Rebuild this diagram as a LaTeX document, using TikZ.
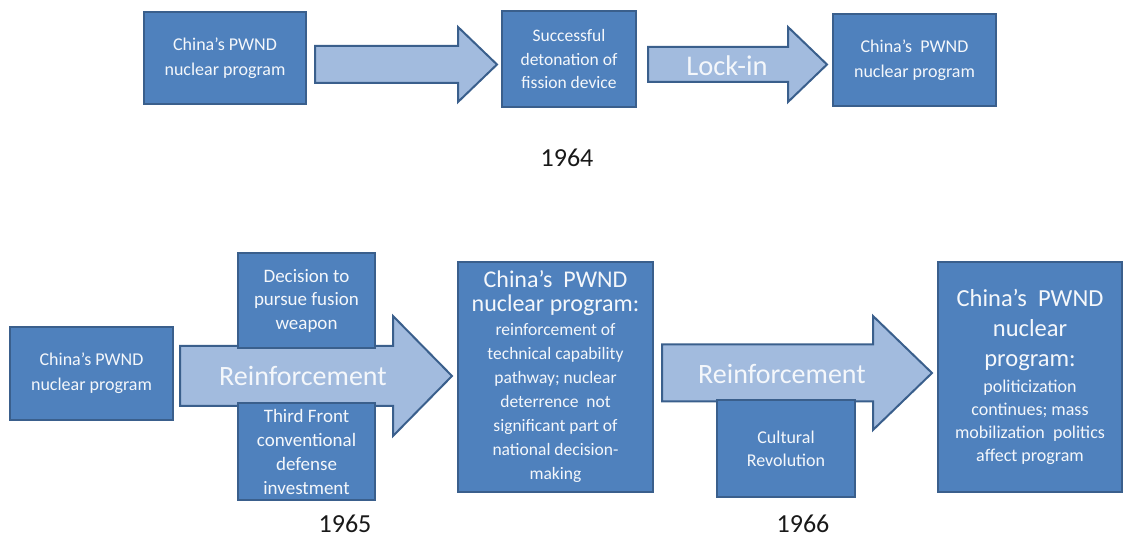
\documentclass[tikz,border=0pt]{standalone}
\usepackage{fontspec}
\setmainfont{Carlito}
\usetikzlibrary{positioning, calc}
\definecolor{boxfill}{HTML}{4F81BD}
\definecolor{boxline}{HTML}{3A5F8C}
\definecolor{arrowfill}{HTML}{A2BBDE}
\definecolor{boxtext}{HTML}{F4F7FB}
\tikzstyle{box} = [rectangle, draw=boxline, fill=boxfill, line width=2pt, text=boxtext, align=center, inner sep=0pt, font=\fontsize{18}{25}\selectfont]
\tikzstyle{fatarrow} = [draw=boxline, fill=arrowfill, line width=2pt, line join=miter]
\tikzstyle{arrowlabel} = [text=boxtext, inner sep=0pt, font=\fontsize{28}{30}\selectfont]
\tikzstyle{year} = [text=black!90, inner sep=0pt, font=\fontsize{26}{28}\selectfont]
% block arrow: tail, tip, half shaft, half head, head length
\newcommand{\fatarrow}[5]{\draw [fatarrow] ($(#1)+(0,-#3)$) -- ($(#2)+(-#5,-#3)$) -- ($(#2)+(-#5,-#4)$) -- (#2) -- ($(#2)+(-#5,#4)$) -- ($(#2)+(-#5,#3)$) -- ($(#1)+(0,#3)$) -- cycle;}

\begin{document}
\begin{tikzpicture}[x=1pt, y=-1pt]
    \useasboundingbox (0,0) rectangle (1128,537);

    % ==== Arrows (drawn first, boxes sit on top)
    \coordinate (fission tail) at (315,64.5);
    \coordinate (fission tip) at (497,64.5);
    \coordinate (lockin tail) at (648,64.5);
    \coordinate (lockin tip) at (827,64.5);
    \coordinate (reinf1 tail) at (180,376);
    \coordinate (reinf1 tip) at (452,376);
    \coordinate (reinf2 tail) at (662,373);
    \coordinate (reinf2 tip) at (932,373);

    \fatarrow{fission tail}{fission tip}{18.5}{37.5}{39}
    \fatarrow{lockin tail}{lockin tip}{17.5}{37.5}{39}
    \fatarrow{reinf1 tail}{reinf1 tip}{30}{60}{59}
    \fatarrow{reinf2 tail}{reinf2 tip}{28.5}{57}{59}

    \node (lockin) [arrowlabel, font=\fontsize{28.5}{30}\selectfont] at (727,66) {Lock-in};
    \node (reinf1) [arrowlabel] at (303,376) {Reinforcement};
    \node (reinf2) [arrowlabel] at (782,374) {Reinforcement};

    % ==== 1964
    \node (pwnd1) [box, minimum width=162, minimum height=92] at (225,58) {China’s PWND\\nuclear program};
    \node (fission) [box, minimum width=134, minimum height=96, font=\fontsize{17.5}{23.5}\selectfont] at (569,59) {Successful\\detonation of\\fission device};
    \node (pwnd2) [box, minimum width=163, minimum height=92] at (914.5,60) {China’s~ PWND\\nuclear program};
    \node (y1964) [year] at (567,158) {1964};

    % ==== 1965
    \node (pwnd3) [box, minimum width=163, minimum height=93] at (91.5,373.5) {China’s PWND\\nuclear program};
    \node (fusion) [box, minimum width=137, minimum height=95, font=\fontsize{19}{23.5}\selectfont] at (306.5,300.5) {Decision to\\pursue fusion\\weapon};
    \node (thirdfront) [box, minimum width=137, minimum height=97, font=\fontsize{19}{24}\selectfont] at (306.5,451.5) {Third Front\\conventional\\defense\\investment};
    \node (pwnd4) [box, minimum width=195, minimum height=230, font=\fontsize{17.5}{24}\selectfont] at (555.5,377)
        {{\fontsize{24}{24}\selectfont China’s~ PWND}\\{\fontsize{24}{24}\selectfont nuclear program:}\\reinforcement of\\technical capability\\pathway; nuclear\\deterrence~ not\\significant part of\\national decision-\\making};
    \node (y1965) [year] at (345,524) {1965};

    % ==== 1966
    \node (cultrev) [box, minimum width=138, minimum height=97, font=\fontsize{18}{23}\selectfont] at (786,448.5) {Cultural\\Revolution};
    \node (pwnd5) [box, minimum width=184, minimum height=230, font=\fontsize{18}{23}\selectfont] at (1030,377)
        {{\fontsize{24.5}{28}\selectfont China’s~ PWND}\\[7pt]{\fontsize{24.5}{28}\selectfont nuclear}\\[7pt]{\fontsize{24.5}{28}\selectfont program:}\\[3pt]politicization\\continues; mass\\mobilization~ politics\\affect program};
    \node (y1966) [year] at (803,524) {1966};

\end{tikzpicture}
\end{document}
